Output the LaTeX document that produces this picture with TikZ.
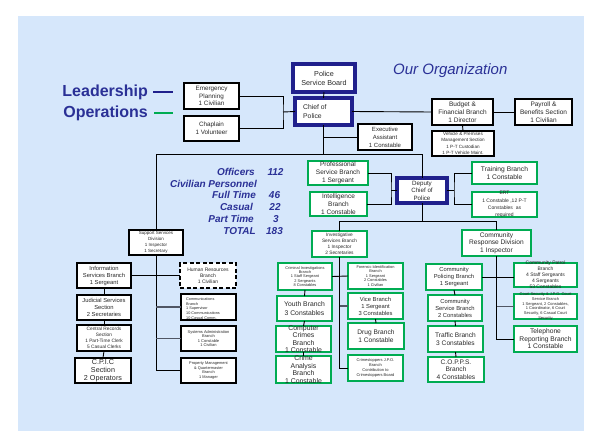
\documentclass[tikz,border=0pt]{standalone}
\usepackage{fontspec}
\setmainfont{Liberation Sans}
\definecolor{bgblue}{RGB}{214,231,251}
\definecolor{navy}{RGB}{32,32,140}
\definecolor{grn}{RGB}{0,172,82}
\definecolor{txtblue}{RGB}{42,48,150}
\definecolor{txtgray}{RGB}{40,40,40}
\definecolor{cgray}{RGB}{80,86,100}
\newcommand\bx[9]{%
  \node[#2,minimum width=#5pt-#3pt-2pt,minimum height=#6pt-#4pt-2pt] (#1) at ({(#3+#5)/2},{(#4+#6)/2}) {};
  \node[txt,font=\fontsize{#7}{#8}\selectfont] at (#1.center) {#9};}
\begin{document}
\begin{tikzpicture}[x=1pt,y=-1pt,
  box/.style={rectangle,inner sep=0pt,outer sep=0pt,fill=white},
  bk/.style={box,draw=black,line width=1.8pt},
  gr/.style={box,draw=grn,line width=2.6pt},
  bl/.style={box,draw=navy,line width=3.2pt},
  dsh/.style={bk,dash pattern=on 4pt off 2.5pt},
  txt/.style={align=center,inner sep=0pt,text=txtgray},
  cn/.style={draw=black,line width=0.9pt},
  cg/.style={draw=cgray,line width=1.6pt},
  stat/.style={font=\bfseries\itshape\fontsize{10}{12}\selectfont,text=txtblue,inner sep=0pt}]
\useasboundingbox (0,0) rectangle (602,447);
\fill[white] (0,0) rectangle (602,447);
\fill[bgblue] (18,16) rectangle (584,431);

% legend
\node[anchor=base east,inner sep=0pt,text=txtblue,font=\bfseries\fontsize{16}{18}\selectfont] (lead) at (148,96) {Leadership};
\node[anchor=base east,inner sep=0pt,text=txtblue,font=\bfseries\fontsize{16}{18}\selectfont] (oper) at (148,117) {Operations};
\draw[navy,line width=2pt] (153,92) -- (173,92);
\draw[grn,line width=2pt] (154,113) -- (173,113);
\node[anchor=base west,inner sep=0pt,text=txtblue,font=\itshape\fontsize{15}{17}\selectfont] (title) at (393,74) {Our Organization};

% statistics
\node[stat,anchor=east] (s1) at (255,172) {Officers};
\node[stat] (n1) at (275.5,172) {112};
\node[stat,anchor=east] (s2) at (257,183.5) {Civilian Personnel};
\node[stat,anchor=east] (s3) at (256,195) {Full Time};
\node[stat] (n3) at (274.5,195) {46};
\node[stat,anchor=east] (s4) at (253,207) {Casual};
\node[stat] (n4) at (275,207) {22};
\node[stat,anchor=east] (s5) at (254,219) {Part Time};
\node[stat] (n5) at (276,219) {3};
\node[stat,anchor=east] (s6) at (256,231) {TOTAL};
\node[stat] (n6) at (274.5,231) {183};

% top
\bx{emerg}{bk}{183}{82}{240}{110}{6.3}{7.7}{Emergency\\Planning\\1 Civilian}
\bx{chap}{bk}{183}{115}{240}{142}{6.3}{7.7}{Chaplain\\1 Volunteer}
\bx{psb}{bl}{292}{63}{356}{93}{7.2}{9}{Police\\Service Board}
\bx{chief}{bl}{294}{97}{353}{126}{6.8}{8.5}{}
\node[txt,anchor=west,align=left,font=\fontsize{6.8}{8.5}\selectfont] (chieft) at ([xshift=8pt]chief.west) {Chief of\\Police};
\bx{budget}{bk}{431}{98}{494}{126}{6.5}{8}{Budget \&\\Financial Branch\\1 Director}
\bx{payroll}{bk}{514}{98}{573}{126}{6.5}{8}{Payroll \&\\Benefits Section\\1 Civilian}
\bx{vehicle}{bk}{431}{130}{495}{157}{4.6}{6.3}{Vehicle \& Premises\\Management Section\\1 P-T Custodian\\1 P-T Vehicle Maint.}
\bx{exec}{bk}{357}{123}{413}{151}{6}{8}{Executive\\Assistant\\1 Constable}
\bx{prof}{gr}{307}{160}{369}{186}{6.5}{8}{Professional\\Service Branch\\1 Sergeant}
\bx{intel}{gr}{309}{191}{368}{217}{6.5}{8}{Intelligence\\Branch\\1 Constable}
\bx{deputy}{bl}{396}{177}{448}{204}{6.2}{7.5}{Deputy\\Chief of\\Police}
\bx{training}{gr}{471}{161}{538}{185}{6.7}{8.5}{Training Branch\\1 Constable}
\bx{ert}{gr}{471}{191}{538}{218}{5}{7.3}{ERT\\1 Constable ,12 P-T\\Constables\ \ as\\required}
\bx{invest}{gr}{311}{230}{368}{258}{4.8}{6}{Investigative\\Services Branch\\1 Inspector\\2 Secretaries}
\bx{commresp}{gr}{461}{229}{532}{257}{6.6}{7.6}{Community\\Response Division\\1 Inspector}
\bx{support}{bk}{128}{229}{184}{256}{4.5}{6}{Support Services\\Division\\1 Inspector\\1 Secretary}

% support column
\bx{info}{bk}{76}{262}{132}{289}{5.8}{7}{Information\\Services Branch\\1 Sergeant}
\bx{judicial}{bk}{76}{294}{132}{321}{5.8}{7}{Judicial Services\\Section\\2 Secretaries}
\bx{central}{bk}{76}{324}{132}{352}{4.8}{6}{Central Records\\Section\\1 Part-Time Clerk\\5 Casual Clerks}
\bx{cpic}{bk}{74}{357}{132}{384}{7.2}{8}{C.P.I.C\\Section\\2 Operators}
\bx{hr}{dsh}{179}{262}{237}{289}{5}{6}{Human Resources\\Branch\\1 Civilian}
\bx{comms}{bk}{180}{293}{237}{321}{3.8}{4.7}{}
\node[txt,anchor=north west,align=left,font=\fontsize{3.8}{4.7}\selectfont] (commst) at (186,297.6) {Communications\\Branch\\1 Supervisor\\10 Communications\\10 Casual Comm.};
\bx{sysadm}{bk}{180}{325}{237}{352}{4}{4.6}{Systems Administration\\Branch\\1 Constable\\1 Civilian}
\bx{prop}{bk}{180}{357}{237}{384}{3.9}{4.4}{Property Management\\\& Quartermaster\\Branch\\1 Manager}

% investigative column
\bx{crim}{gr}{277}{262}{333}{291}{3.9}{4.4}{Criminal Investigations\\Branch\\1 Staff Sergeant\\2 Sergeants\\8 Constables}
\bx{youth}{gr}{276}{295}{333}{322}{6.8}{8.3}{Youth Branch\\3 Constables}
\bx{compcr}{gr}{275}{325}{332}{353}{6.9}{7.4}{Computer\\Crimes\\Branch\\1 Constable}
\bx{crimean}{gr}{275}{355}{332}{384}{6.9}{7.6}{Crime\\Analysis\\Branch\\1 Constable}
\bx{foren}{gr}{347}{262}{404}{290}{3.9}{4.5}{Forensic Identification\\Branch\\1 Sergeant\\2 Constables\\1 Civilian}
\bx{vice}{gr}{347}{292}{404}{320}{5.8}{7}{Vice Branch\\1 Sergeant\\3 Constables}
\bx{drug}{gr}{347}{322}{405}{350}{6.6}{7.8}{Drug Branch\\1 Constable}
\bx{crimestop}{gr}{347}{354}{404}{382}{4}{4.8}{Crimestoppers J.P.O.\\Branch\\Contribution to\\Crimestoppers Board}

% community column
\bx{cpol}{gr}{425}{263}{483}{291}{5.8}{6.6}{Community\\Policing Branch\\1 Sergeant}
\bx{cserv}{gr}{427}{294}{483}{322}{5.8}{7}{Community\\Service Branch\\2 Constables}
\bx{traffic}{gr}{427}{325}{484}{353}{6.6}{7.7}{Traffic Branch\\3 Constables}
\bx{copps}{gr}{427}{356}{485}{383}{6.6}{7.5}{C.O.P.P.S.\\Branch\\4 Constables}
\bx{cpatrol}{gr}{513}{262}{578}{288}{5}{6}{Community Patrol\\Branch\\4 Staff Sergeants\\4 Sergeants\\53 Constables}
\bx{court}{gr}{513}{293}{578}{320}{4}{4.8}{Court Security \& J.P.O. Court\\Service Branch\\1 Sergeant, 2 Constables,\\1 Coordinator, 6 Court\\Security, 6 Casual Court\\Security}
\bx{tel}{gr}{513}{325}{578}{353}{6.7}{7.6}{Telephone\\Reporting Branch\\1 Constable}

% junctions
\coordinate (j1) at (283,112);
\coordinate (j2) at (323.5,154);
\coordinate (j3) at (391,190.5);
\coordinate (j4) at (454,190.5);
\coordinate (j5) at (422,221);

% connectors
\draw[cn] (emerg.east) -| (j1) |- (chap.east);
\draw[cn] (j1) -- (chief.west);
\draw[cn] (psb.south) -- (chief.north);
\draw[cn] (chief.east) -- (budget.west);
\draw[cn] (budget.east) -- (payroll.west);
\draw[cn] (budget.south) -- (vehicle.north);
\draw[cn] (chief.south) -- (j2);
\draw[cn] (chief.south |- exec.west) -- (exec.west);
\draw[cn] (support.north) |- (deputy.north |- j2) -- (deputy.north);
\draw[cn] (prof.east) -| (j3) |- (intel.east);
\draw[cn] (j3) -- (deputy.west);
\draw[cn] (training.west) -| (j4) |- (ert.west);
\draw[cn] (deputy.east) -- (j4);
\draw[cn] (deputy.south) -- (deputy.south |- j5);
\draw[cn] (invest.north) |- (commresp.north |- j5) -- (commresp.north);
% support
\draw[cn] (support.south) |- (prop.west);
\draw[cn] (info.east) -- (hr.west);
\draw[cg] (support.south |- comms.west) -- (comms.west);
\draw[cg] (support.south |- sysadm.west) -- (sysadm.west);
\draw[cn] (info.south) -- (judicial.north);
\draw[cn] (judicial.south) -- (central.north);
\draw[cn] (central.south) -- (cpic.north);
% investigative
\draw[cn] (invest.south) |- (crimestop.west);
\draw[cn] (crim.east) -- (foren.west);
\draw[cg] (invest.south |- vice.west) -- (vice.west);
\draw[cn] (crim.south) -- (youth.north);
\draw[cn] (youth.south) -- (compcr.north);
\draw[cn] (compcr.south) -- (crimean.north);
\draw[cn] (vice.south) -- (drug.north);
% community
\draw[cn] (commresp.south) |- (tel.west);
\draw[cn] (cpol.east) -- (cpatrol.west |- cpol.east);
\draw[cg] (commresp.south |- court.west) -- (court.west);
\draw[cn] (cpol.south) -- (cserv.north);
\draw[cn] (cserv.south) -- (traffic.north);
\draw[cn] (traffic.south) -- (copps.north);
\end{tikzpicture}
\end{document}
